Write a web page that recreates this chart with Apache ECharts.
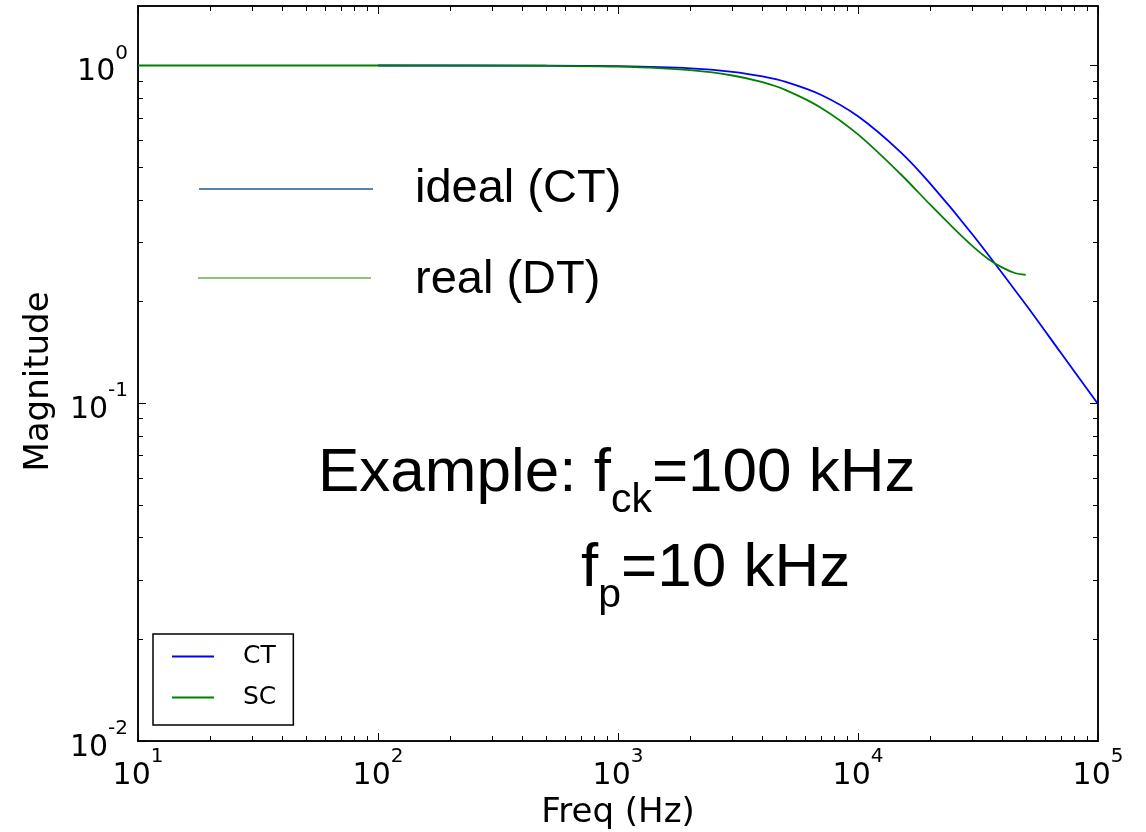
<!DOCTYPE html>
<html>
<head>
<meta charset="utf-8">
<script src="https://cdn.jsdelivr.net/npm/echarts@6/dist/echarts.min.js"></script>
<style>
  html, body { margin: 0; padding: 0; background: #fff; }
  #chart { width: 1146px; height: 832px; }
</style>
</head>
<body>
<div id="chart"></div>
<script>
// continuous-time response
const freqCT = [100, 500, 1000, 2000, 3000, 4000, 5000, 7000, 10000, 15000, 20000, 30000, 50000, 70000, 100000];
const magCT = [1.0, 0.999, 0.995, 0.981, 0.958, 0.928, 0.894, 0.819, 0.707, 0.555, 0.447, 0.316, 0.196, 0.141, 0.0995];
// switched-capacitor response
const freqSC = [10, 100, 500, 1000, 2000, 3000, 4000, 5000, 7000, 10000, 15000, 20000, 25000, 30000, 35000, 40000, 45000, 50000];
const magSC = [1.0, 1.0, 0.998, 0.992, 0.969, 0.934, 0.892, 0.845, 0.75, 0.625, 0.478, 0.387, 0.33, 0.292, 0.267, 0.252, 0.243, 0.24];

const xMajor = [10, 100, 1000, 10000, 100000];
const yMajor = [0.01, 0.1, 1];
const steps = [2, 3, 4, 5, 6, 7, 8, 9];
const xMinor = [10, 100, 1000, 10000].flatMap(d => steps.map(s => s * d));
const yMinor = [0.01, 0.1].flatMap(d => steps.map(s => +(s * d).toFixed(3)));

const font = 'DejaVu Sans';

const tickLabel = {
  fontFamily: font,
  color: '#000',
  formatter: v => '{b|10}{s|' + Math.round(Math.log10(v)) + '}',
  rich: {
    b: { fontSize: 30, fontFamily: font, lineHeight: 44, verticalAlign: 'bottom', color: '#000' },
    s: { fontSize: 20, fontFamily: font, lineHeight: 22, verticalAlign: 'top', color: '#000' },
  },
};

function makeAxis(position, min, max, ticks, len, withLabels, extra) {
  return Object.assign({
    type: 'log',
    position: position,
    min: min,
    max: max,
    splitLine: { show: false },
    axisLine: { show: true, lineStyle: { color: '#000', width: 1.5 } },
    axisTick: { show: true, inside: true, length: len, customValues: ticks, lineStyle: { color: '#000', width: 1 } },
    axisLabel: withLabels ? Object.assign({ customValues: ticks }, tickLabel) : { show: false },
  }, extra || {});
}

const lineIcon = 'path://M0,0 L42,0 L42,1.8 L0,1.8 Z';
const textBig = { fontFamily: 'Liberation Sans', fontSize: 62, lineHeight: 70, verticalAlign: 'top', fill: '#000' };
const textSub = { fontFamily: 'Liberation Sans', fontSize: 41, lineHeight: 46, padding: [37, 0, 0, 0], verticalAlign: 'top', fill: '#000' };

const chart = echarts.init(document.getElementById('chart'));
chart.setOption({
  animation: false,
  backgroundColor: '#fff',
  grid: { left: 138, right: 48, top: 6, bottom: 91, outerBoundsMode: 'none' },
  xAxis: [
    makeAxis('bottom', 10, 100000, xMajor, 8, true, {
      name: 'Freq (Hz)', nameLocation: 'middle', nameGap: 54,
      nameTextStyle: { fontFamily: font, fontSize: 34, color: '#000' },
      axisLabel: Object.assign({ customValues: xMajor, margin: 6 }, tickLabel),
    }),
    makeAxis('bottom', 10, 100000, xMinor, 5, false),
    makeAxis('top', 10, 100000, xMajor, 8, false),
    makeAxis('top', 10, 100000, xMinor, 5, false),
  ],
  yAxis: [
    makeAxis('left', 0.01, 1.5, yMajor, 8, true, {
      name: 'Magnitude', nameLocation: 'middle', nameGap: 82,
      nameTextStyle: { fontFamily: font, fontSize: 34, color: '#000', padding: [0, 16, 0, 0] },
      axisLabel: Object.assign({ customValues: yMajor, margin: 10 }, tickLabel),
    }),
    makeAxis('left', 0.01, 1.5, yMinor, 5, false),
    makeAxis('right', 0.01, 1.5, yMajor, 8, false),
    makeAxis('right', 0.01, 1.5, yMinor, 5, false),
  ],
  legend: {
    left: 153,
    top: 634,
    orient: 'vertical',
    data: [{ name: 'CT', icon: lineIcon }, { name: 'SC', icon: lineIcon }],
    itemWidth: 42,
    itemHeight: 26,
    itemGap: 16,
    padding: [10, 17, 15, 19],
    borderColor: '#000',
    borderWidth: 1.5,
    selectedMode: false,
    textStyle: { fontFamily: font, fontSize: 25, color: '#000', padding: [0, 0, 0, 24] },
  },
  series: [
    {
      name: 'CT',
      type: 'line',
      xAxisIndex: 0,
      yAxisIndex: 0,
      data: freqCT.map((f, i) => [f, magCT[i]]),
      symbol: 'none',
      smooth: 0.3,
      lineStyle: { color: '#0000ff', width: 1.8 },
      itemStyle: { color: '#0000ff' },
    },
    {
      name: 'SC',
      type: 'line',
      xAxisIndex: 0,
      yAxisIndex: 0,
      data: freqSC.map((f, i) => [f, magSC[i]]),
      symbol: 'none',
      smooth: 0.3,
      lineStyle: { color: '#008000', width: 1.8 },
      itemStyle: { color: '#008000' },
    },
  ],
  graphic: [
    { type: 'line', shape: { x1: 199, y1: 189, x2: 373, y2: 189 }, style: { stroke: '#225a9a', lineWidth: 1.5 } },
    { type: 'line', shape: { x1: 198, y1: 278, x2: 371, y2: 278 }, style: { stroke: '#70ad47', lineWidth: 1.5 } },
    { type: 'text', x: 415, y: 189, style: { text: 'ideal (CT)', fontFamily: 'Liberation Sans', fontSize: 47, fill: '#000', verticalAlign: 'middle' } },
    { type: 'text', x: 415, y: 280, style: { text: 'real (DT)', fontFamily: 'Liberation Sans', fontSize: 47, fill: '#000', verticalAlign: 'middle' } },
    { type: 'text', x: 318, y: 443, style: { text: '{t|Example: f}{c|ck}{t|=100 kHz}', rich: { t: textBig, c: textSub } } },
    { type: 'text', x: 581, y: 538, style: { text: '{t|f}{c|p}{t|=10 kHz}', rich: { t: textBig, c: textSub } } },
  ],
});
</script>
</body>
</html>
